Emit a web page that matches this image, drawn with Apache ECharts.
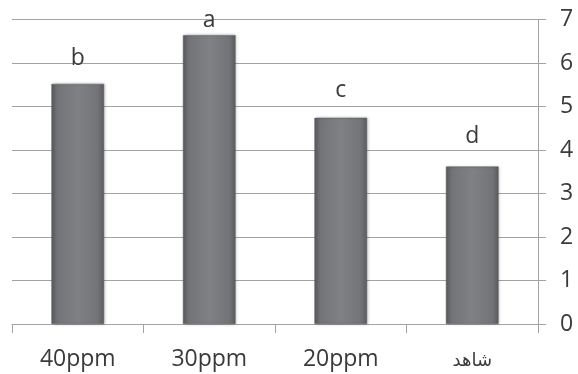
<!DOCTYPE html>
<html><head><meta charset="utf-8">
<script src="https://cdn.jsdelivr.net/npm/echarts@6/dist/echarts.min.js"></script>
<style>html,body{margin:0;padding:0;background:#fff}#c{width:578px;height:374px}</style>
</head><body><div id="c"></div>
<script>
const categories = ['40ppm', '30ppm', '20ppm', 'شاهد'];
const values = [5.52, 6.64, 4.74, 3.62];
const letters = ['b', 'a', 'c', 'd'];
const yTicks = [0, 1, 2, 3, 4, 5, 6, 7];
// style: gap in px from bar top to letter
const labelGap = [14, 3, 16, 19];

const font = "'Open Sans', 'DejaVu Sans', sans-serif";
const textColor = '#3a3a3a';
const lineColor = '#a3a3a3';

const chart = echarts.init(document.getElementById('c'), null, {renderer: 'canvas'});
const barColor = new echarts.graphic.LinearGradient(0, 0, 1, 0, [
  {offset: 0, color: '#5b5c60'},
  {offset: 0.12, color: '#737478'},
  {offset: 0.5, color: '#808185'},
  {offset: 0.88, color: '#737478'},
  {offset: 1, color: '#5b5c60'}
]);
chart.setOption({
  animation: false,
  grid: {left: 12, right: 40, top: 19.5, bottom: 50, containLabel: false},
  xAxis: {
    type: 'category',
    data: categories,
    axisLine: {lineStyle: {color: lineColor, width: 1}},
    axisTick: {show: true, interval: 0, length: 9, lineStyle: {color: lineColor}},
    axisLabel: {
      interval: 0, hideOverlap: false,
      color: textColor, fontFamily: font, fontSize: 23, margin: 24,
      formatter: v => /[\u0600-\u06FF]/.test(v) ? '{ar|' + v + '}' : v,
      rich: {ar: {fontSize: 18, padding: [4, 0, 0, 0], fontFamily: "'DejaVu Sans', sans-serif", color: textColor}}
    }
  },
  yAxis: {
    type: 'value',
    position: 'right',
    min: yTicks[0], max: yTicks[yTicks.length - 1], interval: 1,
    axisLine: {show: true, lineStyle: {color: lineColor, width: 1}},
    axisTick: {show: true, length: 8, lineStyle: {color: lineColor}},
    splitLine: {lineStyle: {color: lineColor, width: 1}},
    axisLabel: {color: textColor, fontFamily: font, fontSize: 23, margin: 22}
  },
  series: [{
    type: 'bar',
    barCategoryGap: '60%',
    data: values.map((v, i) => ({
      value: v,
      label: {
        show: true, position: 'top', distance: labelGap[i],
        formatter: letters[i], color: textColor, fontFamily: font, fontSize: 23
      }
    })),
    itemStyle: {
      color: barColor,
      borderColor: '#5a5b5f', borderWidth: 0.5,
      shadowColor: 'rgba(0,0,0,0.25)', shadowBlur: 3, shadowOffsetX: 1, shadowOffsetY: 0
    }
  }]
});
</script></body></html>
